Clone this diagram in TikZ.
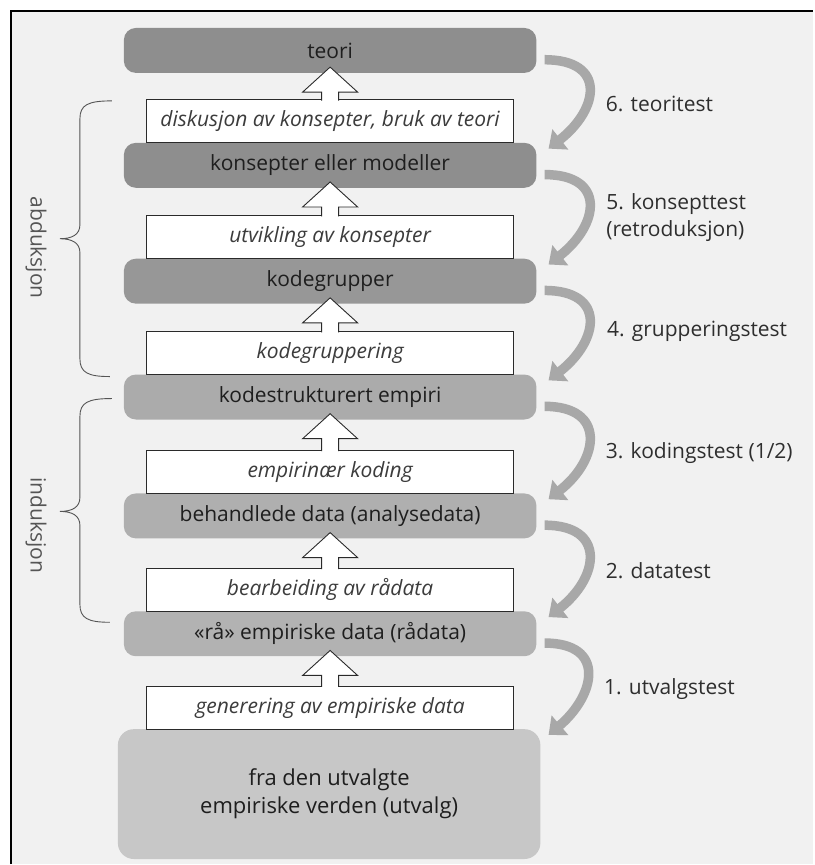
\documentclass[tikz,border=0pt]{standalone}
\usepackage{fontspec}
\setmainfont{Open Sans}
\usetikzlibrary{arrows.meta,calc}
\definecolor{bgc}{HTML}{F1F1F1}
\definecolor{gA}{HTML}{8E8E8E}
\definecolor{gB}{HTML}{ABABAB}
\definecolor{gC}{HTML}{C7C7C7}
\definecolor{txt}{HTML}{1E1E1E}
\definecolor{itxt}{HTML}{3C3C3C}
\definecolor{edge}{HTML}{2A2A2A}
\definecolor{arrgray}{HTML}{A8A8A8}
\definecolor{lbl}{HTML}{2E2E2E}
\definecolor{sidec}{HTML}{555555}
\definecolor{bracec}{HTML}{555555}
\newcommand\boxarrow[2]{%
  \draw[uparr] let \p1=(#1.north), \p2=(#2.south) in
    (\x1-8.5pt,\y1-1.2pt) -- (\x1-8.5pt,\y2-19pt) -- (\x1-27.5pt,\y2-19pt) --
    (\x1,\y2+6pt) -- (\x1+27.5pt,\y2-19pt) -- (\x1+8.5pt,\y2-19pt) -- (\x1+8.5pt,\y1-1.2pt);}
\begin{document}
\begin{tikzpicture}[x=1pt,y=-1pt,
  graybox/.style={rectangle, rounded corners=12pt, minimum width=413pt, minimum height=45pt,
    inner sep=0pt, text=txt, font=\fontsize{21}{25}\selectfont},
  whitebox/.style={rectangle, draw=edge, line width=0.9pt, fill=white, minimum width=367pt,
    minimum height=43pt, inner sep=0pt, text=itxt, font=\fontsize{21}{25}\selectfont\itshape},
  uparr/.style={draw=edge, line width=0.9pt, fill=white, line join=miter},
  testarr/.style={draw=arrgray, line width=9.5pt, -{Triangle[width=25pt,length=15pt]}},
  testlbl/.style={text=lbl, font=\fontsize{21}{27}\selectfont, align=left, anchor=west},
  bracepath/.style={draw=bracec, line width=0.9pt},
  sidelbl/.style={text=sidec, font=\fontsize{21}{25}\selectfont, rotate=-90}]
% page and frame
\fill[white] (0,0) rectangle (814,865);
\fill[bgc] (11,11) rectangle (814,865);
\draw[line width=2pt] (11,865) -- (11,11) -- (814,11);
% grey stages
\node[graybox, fill=gA] (teori) at (330.5,50.5) {teori};
\node[graybox, fill=gA] (konsepter) at (330.5,165.5) {konsepter eller modeller};
\node[graybox, fill=gA!92!white] (kodegrupper) at (330.5,281.5) {kodegrupper};
\node[graybox, fill=gB] (kodestrukt) at (330.5,397.5) {kodestrukturert empiri};
\node[graybox, fill=gB!95!white] (behandlede) at (330.5,516.5) {behandlede data (analysedata)};
\node[graybox, fill=gB!92!white] (raa) at (330.5,634.5) {«rå» empiriske data (rådata)};
\node[graybox, fill=gC, rounded corners=16pt, minimum width=423pt, minimum height=130pt,
  align=center, font=\fontsize{22}{28}\selectfont] (utvalg) at (329.5,795)
  {fra den utvalgte\\empiriske verden (utvalg)};
% white process boxes
\node[whitebox] (diskusjon) at (330.5,121.5) {diskusjon av konsepter, bruk av teori};
\node[whitebox] (utvikling) at (330.5,237.5) {utvikling av konsepter};
\node[whitebox] (kodegruppering) at (330.5,353.5) {kodegruppering};
\node[whitebox] (empirinaer) at (330.5,472.5) {empirinær koding};
\node[whitebox] (bearbeiding) at (330.5,590.5) {bearbeiding av rådata};
\node[whitebox] (generering) at (330.5,708.5) {generering av empiriske data};
% hollow up arrows
\boxarrow{diskusjon}{teori}
\boxarrow{utvikling}{konsepter}
\boxarrow{kodegruppering}{kodegrupper}
\boxarrow{empirinaer}{kodestrukt}
\boxarrow{bearbeiding}{behandlede}
\boxarrow{generering}{raa}
% test arrows
\draw[testarr] ([xshift=8pt,yshift=-32pt]teori.north east) .. controls +(62,0) and +(51,-40) ..
  ([xshift=12pt,yshift=-6pt]konsepter.north east) node[testlbl, pos=0.63, xshift=12pt] {6. teoritest};
\draw[testarr] ([xshift=8pt,yshift=-32pt]konsepter.north east) .. controls +(62,0) and +(51,-40) ..
  ([xshift=12pt,yshift=-6pt]kodegrupper.north east) node[testlbl, pos=0.62, xshift=12pt] {5. konsepttest\\(retroduksjon)};
\draw[testarr] ([xshift=8pt,yshift=-32pt]kodegrupper.north east) .. controls +(62,0) and +(51,-40) ..
  ([xshift=12pt,yshift=-6pt]kodestrukt.north east) node[testlbl, pos=0.6, xshift=12pt] {4. grupperingstest};
\draw[testarr] ([xshift=8pt,yshift=-32pt]kodestrukt.north east) .. controls +(62,0) and +(51,-40) ..
  ([xshift=12pt,yshift=-6pt]behandlede.north east) node[testlbl, pos=0.63, xshift=12pt] {3. kodingstest (1/2)};
\draw[testarr] ([xshift=8pt,yshift=-32pt]behandlede.north east) .. controls +(62,0) and +(51,-40) ..
  ([xshift=12pt,yshift=-6pt]raa.north east) node[testlbl, pos=0.63, xshift=12pt] {2. datatest};
\draw[testarr] ([xshift=8pt,yshift=-32pt]raa.north east) .. controls +(62,0) and +(47,-40) ..
  ([xshift=8pt,yshift=-6pt]utvalg.north east) node[testlbl, pos=0.63, xshift=12pt] {1. utvalgstest};
% braces
\draw[bracepath] (112,101) .. controls (88,101) and (80,105) .. (80,119) -- (80,225)
  .. controls (80,235) and (72,239) .. (60,239) .. controls (72,239) and (80,243) .. (80,253)
  -- (80,359) .. controls (80,373) and (88,377) .. (110,377);
\node[sidelbl] (abduksjon) at (36,248) {abduksjon};
\draw[bracepath] (112,399) .. controls (88,399) and (80,403) .. (80,417) -- (80,498)
  .. controls (80,508) and (72,512) .. (60,512) .. controls (72,512) and (80,516) .. (80,526)
  -- (80,605) .. controls (80,619) and (88,623) .. (110,623);
\node[sidelbl] (induksjon) at (36,526) {induksjon};
\end{tikzpicture}
\end{document}
